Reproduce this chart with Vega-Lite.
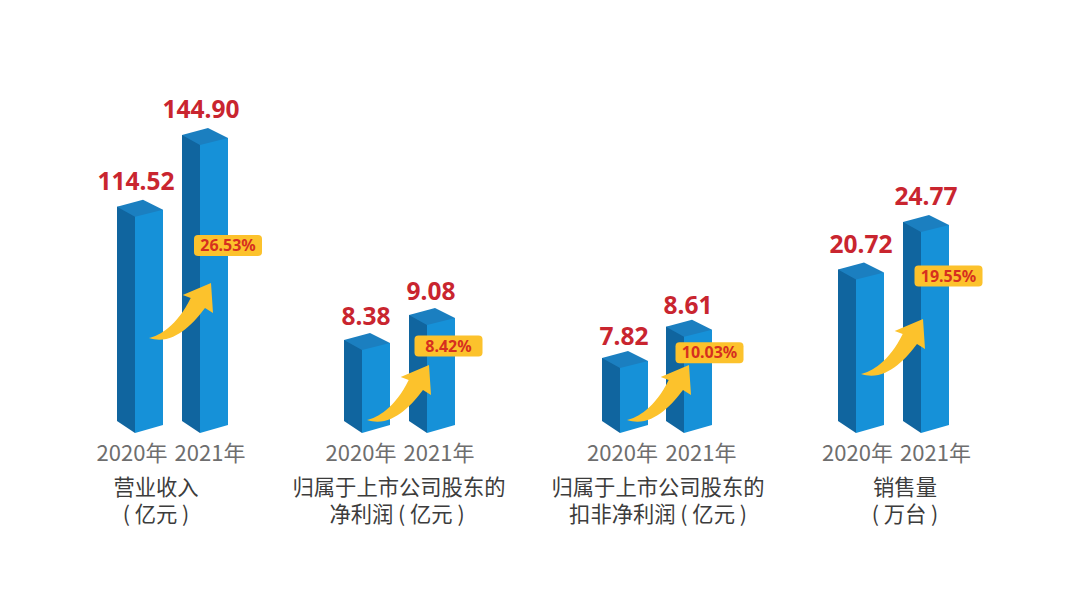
{
  "$schema": "https://vega.github.io/schema/vega-lite/v6.json",
  "description": "营业收入、净利润、扣非净利润与销售量 2020-2021",
  "background": "#ffffff",
  "padding": 0,
  "bounds": "flush",
  "spacing": 0,
  "data": {
    "values": [
      {"metric": "revenue", "year": "2020年", "value": 114.52, "growth": "26.53%", "line1": "营业收入", "line2": "( 亿元 )"},
      {"metric": "revenue", "year": "2021年", "value": 144.90, "growth": "26.53%", "line1": "营业收入", "line2": "( 亿元 )"},
      {"metric": "profit", "year": "2020年", "value": 8.38, "growth": "8.42%", "line1": "归属于上市公司股东的", "line2": "净利润 ( 亿元 )"},
      {"metric": "profit", "year": "2021年", "value": 9.08, "growth": "8.42%", "line1": "归属于上市公司股东的", "line2": "净利润 ( 亿元 )"},
      {"metric": "adjusted", "year": "2020年", "value": 7.82, "growth": "10.03%", "line1": "归属于上市公司股东的", "line2": "扣非净利润 ( 亿元 )"},
      {"metric": "adjusted", "year": "2021年", "value": 8.61, "growth": "10.03%", "line1": "归属于上市公司股东的", "line2": "扣非净利润 ( 亿元 )"},
      {"metric": "sales", "year": "2020年", "value": 20.72, "growth": "19.55%", "line1": "销售量", "line2": "( 万台 )"},
      {"metric": "sales", "year": "2021年", "value": 24.77, "growth": "19.55%", "line1": "销售量", "line2": "( 万台 )"}
    ]
  },
  "hconcat": [
    {
      "width": 270,
      "height": 589,
      "transform": [{"filter": "datum.metric === 'revenue'"}],
      "encoding": {
        "x": {"field": "year", "type": "ordinal", "axis": null, "scale": {"type": "point", "padding": 0, "domain": ["2020年", "2021年"], "range": [135, 200]}},
        "y": {"field": "value", "type": "quantitative", "axis": null, "scale": {"domain": [-43.23, 206.35], "zero": false, "nice": false}}
      },
      "layer": [
        {"mark": {"type": "bar", "width": 18, "xOffset": -9, "yOffset": -10, "y2Offset": -12, "fill": "#10659f"}, "encoding": {"y2": {"datum": 22.87}}},
        {"mark": {"type": "bar", "width": 28, "xOffset": 14, "yOffset": -7, "y2Offset": -12, "fill": "#1691d8"}, "encoding": {"y2": {"datum": 22.87}}},
        {"mark": {"type": "point", "filled": true, "opacity": 1, "strokeWidth": 0, "size": 4, "fill": "#10659f", "shape": "M-18,-12L0,-12L0,0Z"}, "encoding": {"y": {"datum": 22.87}}},
        {"mark": {"type": "point", "filled": true, "opacity": 1, "strokeWidth": 0, "size": 4, "fill": "#1691d8", "shape": "M0,-12L28,-12L28,-8L0,0Z"}, "encoding": {"y": {"datum": 22.87}}},
        {"mark": {"type": "point", "filled": true, "opacity": 1, "strokeWidth": 0, "size": 4, "fill": "#1b7fc0", "shape": "M-18,-10L8,-17L28,-7L0,0Z"}},
        {"mark": {"type": "text", "font": "Noto Sans", "fontWeight": "bold", "fontSize": 24.5, "fill": "#c9252f", "align": "center", "baseline": "alphabetic", "dx": 1, "dy": -27}, "encoding": {"text": {"field": "value", "type": "quantitative", "format": ".2f"}}},
        {"transform": [{"filter": "datum.year === '2020年'"}], "mark": {"type": "point", "filled": true, "opacity": 1, "strokeWidth": 0, "size": 4, "fill": "#fcc22c", "xOffset": 14, "yOffset": -95, "shape": "M0,0C10,-2 28,-12 41.7,-40L33.7,-43L62,-55L64,-25L56,-30C44,-14 24,8 0,0Z"}, "encoding": {"y": {"datum": 22.87}}},
        {"transform": [{"filter": "datum.year === '2021年'"}], "mark": {"type": "point", "filled": true, "opacity": 1, "strokeWidth": 0, "size": 4, "fill": "#fcc22c", "xOffset": 28, "yOffset": 100.5, "shape": "M-30,-10.5L30,-10.5Q34,-10.5 34,-6.5L34,6.5Q34,10.5 30,10.5L-30,10.5Q-34,10.5 -34,6.5L-34,-6.5Q-34,-10.5 -30,-10.5Z"}},
        {"transform": [{"filter": "datum.year === '2021年'"}], "mark": {"type": "text", "font": "Noto Sans", "fontWeight": "bold", "fontSize": 16, "fill": "#d6301f", "align": "center", "baseline": "middle", "dx": 28, "dy": 101}, "encoding": {"text": {"field": "growth"}}},
        {"transform": [{"filter": "datum.year === '2020年'"}], "mark": {"type": "text", "font": "Noto Sans CJK SC", "fontSize": 22, "fill": "#6e6e6e", "align": "center", "baseline": "alphabetic", "dx": -3, "dy": 28}, "encoding": {"y": {"datum": 22.87}, "text": {"field": "year"}}},
        {"transform": [{"filter": "datum.year === '2021年'"}], "mark": {"type": "text", "font": "Noto Sans CJK SC", "fontSize": 22, "fill": "#6e6e6e", "align": "center", "baseline": "alphabetic", "dx": 10, "dy": 28}, "encoding": {"y": {"datum": 22.87}, "text": {"field": "year"}}},
        {"transform": [{"filter": "datum.year === '2020年'"}], "mark": {"type": "text", "font": "Noto Sans CJK SC", "fontSize": 21.3, "fill": "#3c3c3c", "align": "center", "baseline": "alphabetic", "dx": 21, "dy": 62}, "encoding": {"y": {"datum": 22.87}, "text": {"field": "line1"}}},
        {"transform": [{"filter": "datum.year === '2020年'"}], "mark": {"type": "text", "font": "Noto Sans CJK SC", "fontSize": 21.3, "fill": "#3c3c3c", "align": "center", "baseline": "alphabetic", "dx": 21, "dy": 89}, "encoding": {"y": {"datum": 22.87}, "text": {"field": "line2"}}}
      ]
    },
    {
      "width": 260,
      "height": 589,
      "transform": [{"filter": "datum.metric === 'profit'"}],
      "encoding": {
        "x": {"field": "year", "type": "ordinal", "axis": null, "scale": {"type": "point", "padding": 0, "domain": ["2020年", "2021年"], "range": [92, 157]}},
        "y": {"field": "value", "type": "quantitative", "axis": null, "scale": {"domain": [1.685, 18.184], "zero": false, "nice": false}}
      },
      "layer": [
        {"mark": {"type": "bar", "width": 18, "xOffset": -9, "yOffset": -10, "y2Offset": -12, "fill": "#10659f"}, "encoding": {"y2": {"datum": 6.055}}},
        {"mark": {"type": "bar", "width": 28, "xOffset": 14, "yOffset": -7, "y2Offset": -12, "fill": "#1691d8"}, "encoding": {"y2": {"datum": 6.055}}},
        {"mark": {"type": "point", "filled": true, "opacity": 1, "strokeWidth": 0, "size": 4, "fill": "#10659f", "shape": "M-18,-12L0,-12L0,0Z"}, "encoding": {"y": {"datum": 6.055}}},
        {"mark": {"type": "point", "filled": true, "opacity": 1, "strokeWidth": 0, "size": 4, "fill": "#1691d8", "shape": "M0,-12L28,-12L28,-8L0,0Z"}, "encoding": {"y": {"datum": 6.055}}},
        {"mark": {"type": "point", "filled": true, "opacity": 1, "strokeWidth": 0, "size": 4, "fill": "#1b7fc0", "shape": "M-18,-10L8,-17L28,-7L0,0Z"}},
        {"mark": {"type": "text", "font": "Noto Sans", "fontWeight": "bold", "fontSize": 24.5, "fill": "#c9252f", "align": "center", "baseline": "alphabetic", "dx": 4, "dy": -25}, "encoding": {"text": {"field": "value", "type": "quantitative", "format": ".2f"}}},
        {"transform": [{"filter": "datum.year === '2020年'"}], "mark": {"type": "point", "filled": true, "opacity": 1, "strokeWidth": 0, "size": 4, "fill": "#fcc22c", "xOffset": 5, "yOffset": -13, "shape": "M0,0C10,-2 28,-12 41.7,-40L33.7,-43L62,-55L64,-25L56,-30C44,-14 24,8 0,0Z"}, "encoding": {"y": {"datum": 6.055}}},
        {"transform": [{"filter": "datum.year === '2021年'"}], "mark": {"type": "point", "filled": true, "opacity": 1, "strokeWidth": 0, "size": 4, "fill": "#fcc22c", "xOffset": 21.5, "yOffset": 21, "shape": "M-30,-10.5L30,-10.5Q34,-10.5 34,-6.5L34,6.5Q34,10.5 30,10.5L-30,10.5Q-34,10.5 -34,6.5L-34,-6.5Q-34,-10.5 -30,-10.5Z"}},
        {"transform": [{"filter": "datum.year === '2021年'"}], "mark": {"type": "text", "font": "Noto Sans", "fontWeight": "bold", "fontSize": 16, "fill": "#d6301f", "align": "center", "baseline": "middle", "dx": 21.5, "dy": 21.5}, "encoding": {"text": {"field": "growth"}}},
        {"transform": [{"filter": "datum.year === '2020年'"}], "mark": {"type": "text", "font": "Noto Sans CJK SC", "fontSize": 22, "fill": "#6e6e6e", "align": "center", "baseline": "alphabetic", "dx": -1, "dy": 28}, "encoding": {"y": {"datum": 6.055}, "text": {"field": "year"}}},
        {"transform": [{"filter": "datum.year === '2021年'"}], "mark": {"type": "text", "font": "Noto Sans CJK SC", "fontSize": 22, "fill": "#6e6e6e", "align": "center", "baseline": "alphabetic", "dx": 12, "dy": 28}, "encoding": {"y": {"datum": 6.055}, "text": {"field": "year"}}},
        {"transform": [{"filter": "datum.year === '2020年'"}], "mark": {"type": "text", "font": "Noto Sans CJK SC", "fontSize": 21.3, "fill": "#3c3c3c", "align": "center", "baseline": "alphabetic", "dx": 37, "dy": 62}, "encoding": {"y": {"datum": 6.055}, "text": {"field": "line1"}}},
        {"transform": [{"filter": "datum.year === '2020年'"}], "mark": {"type": "text", "font": "Noto Sans CJK SC", "fontSize": 21.3, "fill": "#3c3c3c", "align": "center", "baseline": "alphabetic", "dx": 35, "dy": 89}, "encoding": {"y": {"datum": 6.055}, "text": {"field": "line2"}}}
      ]
    },
    {
      "width": 260,
      "height": 589,
      "transform": [{"filter": "datum.metric === 'adjusted'"}],
      "encoding": {
        "x": {"field": "year", "type": "ordinal", "axis": null, "scale": {"type": "point", "padding": 0, "domain": ["2020年", "2021年"], "range": [90, 154]}},
        "y": {"field": "value", "type": "quantitative", "axis": null, "scale": {"domain": [2.239, 17.112], "zero": false, "nice": false}}
      },
      "layer": [
        {"mark": {"type": "bar", "width": 18, "xOffset": -9, "yOffset": -10, "y2Offset": -12, "fill": "#10659f"}, "encoding": {"y2": {"datum": 6.178}}},
        {"mark": {"type": "bar", "width": 28, "xOffset": 14, "yOffset": -7, "y2Offset": -12, "fill": "#1691d8"}, "encoding": {"y2": {"datum": 6.178}}},
        {"mark": {"type": "point", "filled": true, "opacity": 1, "strokeWidth": 0, "size": 4, "fill": "#10659f", "shape": "M-18,-12L0,-12L0,0Z"}, "encoding": {"y": {"datum": 6.178}}},
        {"mark": {"type": "point", "filled": true, "opacity": 1, "strokeWidth": 0, "size": 4, "fill": "#1691d8", "shape": "M0,-12L28,-12L28,-8L0,0Z"}, "encoding": {"y": {"datum": 6.178}}},
        {"mark": {"type": "point", "filled": true, "opacity": 1, "strokeWidth": 0, "size": 4, "fill": "#1b7fc0", "shape": "M-18,-10L8,-17L28,-7L0,0Z"}},
        {"mark": {"type": "text", "font": "Noto Sans", "fontWeight": "bold", "fontSize": 24.5, "fill": "#c9252f", "align": "center", "baseline": "alphabetic", "dx": 4, "dy": -23}, "encoding": {"text": {"field": "value", "type": "quantitative", "format": ".2f"}}},
        {"transform": [{"filter": "datum.year === '2020年'"}], "mark": {"type": "point", "filled": true, "opacity": 1, "strokeWidth": 0, "size": 4, "fill": "#fcc22c", "xOffset": 7, "yOffset": -13, "shape": "M0,0C10,-2 28,-12 41.7,-40L33.7,-43L62,-55L64,-25L56,-30C44,-14 24,8 0,0Z"}, "encoding": {"y": {"datum": 6.178}}},
        {"transform": [{"filter": "datum.year === '2021年'"}], "mark": {"type": "point", "filled": true, "opacity": 1, "strokeWidth": 0, "size": 4, "fill": "#fcc22c", "xOffset": 25.5, "yOffset": 16, "shape": "M-30,-10.5L30,-10.5Q34,-10.5 34,-6.5L34,6.5Q34,10.5 30,10.5L-30,10.5Q-34,10.5 -34,6.5L-34,-6.5Q-34,-10.5 -30,-10.5Z"}},
        {"transform": [{"filter": "datum.year === '2021年'"}], "mark": {"type": "text", "font": "Noto Sans", "fontWeight": "bold", "fontSize": 16, "fill": "#d6301f", "align": "center", "baseline": "middle", "dx": 25.5, "dy": 16.5}, "encoding": {"text": {"field": "growth"}}},
        {"transform": [{"filter": "datum.year === '2020年'"}], "mark": {"type": "text", "font": "Noto Sans CJK SC", "fontSize": 22, "fill": "#6e6e6e", "align": "center", "baseline": "alphabetic", "dx": 2.5, "dy": 28}, "encoding": {"y": {"datum": 6.178}, "text": {"field": "year"}}},
        {"transform": [{"filter": "datum.year === '2021年'"}], "mark": {"type": "text", "font": "Noto Sans CJK SC", "fontSize": 22, "fill": "#6e6e6e", "align": "center", "baseline": "alphabetic", "dx": 17, "dy": 28}, "encoding": {"y": {"datum": 6.178}, "text": {"field": "year"}}},
        {"transform": [{"filter": "datum.year === '2020年'"}], "mark": {"type": "text", "font": "Noto Sans CJK SC", "fontSize": 21.3, "fill": "#3c3c3c", "align": "center", "baseline": "alphabetic", "dx": 38, "dy": 62}, "encoding": {"y": {"datum": 6.178}, "text": {"field": "line1"}}},
        {"transform": [{"filter": "datum.year === '2020年'"}], "mark": {"type": "text", "font": "Noto Sans CJK SC", "fontSize": 21.3, "fill": "#3c3c3c", "align": "center", "baseline": "alphabetic", "dx": 38, "dy": 89}, "encoding": {"y": {"datum": 6.178}, "text": {"field": "line2"}}}
      ]
    },
    {
      "width": 290,
      "height": 589,
      "transform": [{"filter": "datum.metric === 'sales'"}],
      "encoding": {
        "x": {"field": "year", "type": "ordinal", "axis": null, "scale": {"type": "point", "padding": 0, "domain": ["2020年", "2021年"], "range": [66, 131]}},
        "y": {"field": "value", "type": "quantitative", "axis": null, "scale": {"domain": [-5.665, 44.55], "zero": false, "nice": false}}
      },
      "layer": [
        {"mark": {"type": "bar", "width": 18, "xOffset": -9, "yOffset": -10, "y2Offset": -12, "fill": "#10659f"}, "encoding": {"y2": {"datum": 7.635}}},
        {"mark": {"type": "bar", "width": 28, "xOffset": 14, "yOffset": -7, "y2Offset": -12, "fill": "#1691d8"}, "encoding": {"y2": {"datum": 7.635}}},
        {"mark": {"type": "point", "filled": true, "opacity": 1, "strokeWidth": 0, "size": 4, "fill": "#10659f", "shape": "M-18,-12L0,-12L0,0Z"}, "encoding": {"y": {"datum": 7.635}}},
        {"mark": {"type": "point", "filled": true, "opacity": 1, "strokeWidth": 0, "size": 4, "fill": "#1691d8", "shape": "M0,-12L28,-12L28,-8L0,0Z"}, "encoding": {"y": {"datum": 7.635}}},
        {"mark": {"type": "point", "filled": true, "opacity": 1, "strokeWidth": 0, "size": 4, "fill": "#1b7fc0", "shape": "M-18,-10L8,-17L28,-7L0,0Z"}},
        {"mark": {"type": "text", "font": "Noto Sans", "fontWeight": "bold", "fontSize": 24.5, "fill": "#c9252f", "align": "center", "baseline": "alphabetic", "dx": 5, "dy": -27}, "encoding": {"text": {"field": "value", "type": "quantitative", "format": ".2f"}}},
        {"transform": [{"filter": "datum.year === '2020年'"}], "mark": {"type": "point", "filled": true, "opacity": 1, "strokeWidth": 0, "size": 4, "fill": "#fcc22c", "xOffset": 5, "yOffset": -59, "shape": "M0,0C10,-2 28,-12 41.7,-40L33.7,-43L62,-55L64,-25L56,-30C44,-14 24,8 0,0Z"}, "encoding": {"y": {"datum": 7.635}}},
        {"transform": [{"filter": "datum.year === '2021年'"}], "mark": {"type": "point", "filled": true, "opacity": 1, "strokeWidth": 0, "size": 4, "fill": "#fcc22c", "xOffset": 27.5, "yOffset": 44, "shape": "M-30,-10.5L30,-10.5Q34,-10.5 34,-6.5L34,6.5Q34,10.5 30,10.5L-30,10.5Q-34,10.5 -34,6.5L-34,-6.5Q-34,-10.5 -30,-10.5Z"}},
        {"transform": [{"filter": "datum.year === '2021年'"}], "mark": {"type": "text", "font": "Noto Sans", "fontWeight": "bold", "fontSize": 16, "fill": "#d6301f", "align": "center", "baseline": "middle", "dx": 27.5, "dy": 44.5}, "encoding": {"text": {"field": "growth"}}},
        {"transform": [{"filter": "datum.year === '2020年'"}], "mark": {"type": "text", "font": "Noto Sans CJK SC", "fontSize": 22, "fill": "#6e6e6e", "align": "center", "baseline": "alphabetic", "dx": 1.5, "dy": 28}, "encoding": {"y": {"datum": 7.635}, "text": {"field": "year"}}},
        {"transform": [{"filter": "datum.year === '2021年'"}], "mark": {"type": "text", "font": "Noto Sans CJK SC", "fontSize": 22, "fill": "#6e6e6e", "align": "center", "baseline": "alphabetic", "dx": 14.5, "dy": 28}, "encoding": {"y": {"datum": 7.635}, "text": {"field": "year"}}},
        {"transform": [{"filter": "datum.year === '2020年'"}], "mark": {"type": "text", "font": "Noto Sans CJK SC", "fontSize": 21.3, "fill": "#3c3c3c", "align": "center", "baseline": "alphabetic", "dx": 49, "dy": 62}, "encoding": {"y": {"datum": 7.635}, "text": {"field": "line1"}}},
        {"transform": [{"filter": "datum.year === '2020年'"}], "mark": {"type": "text", "font": "Noto Sans CJK SC", "fontSize": 21.3, "fill": "#3c3c3c", "align": "center", "baseline": "alphabetic", "dx": 49, "dy": 89}, "encoding": {"y": {"datum": 7.635}, "text": {"field": "line2"}}}
      ]
    }
  ],
  "config": {"view": {"stroke": null}}
}
